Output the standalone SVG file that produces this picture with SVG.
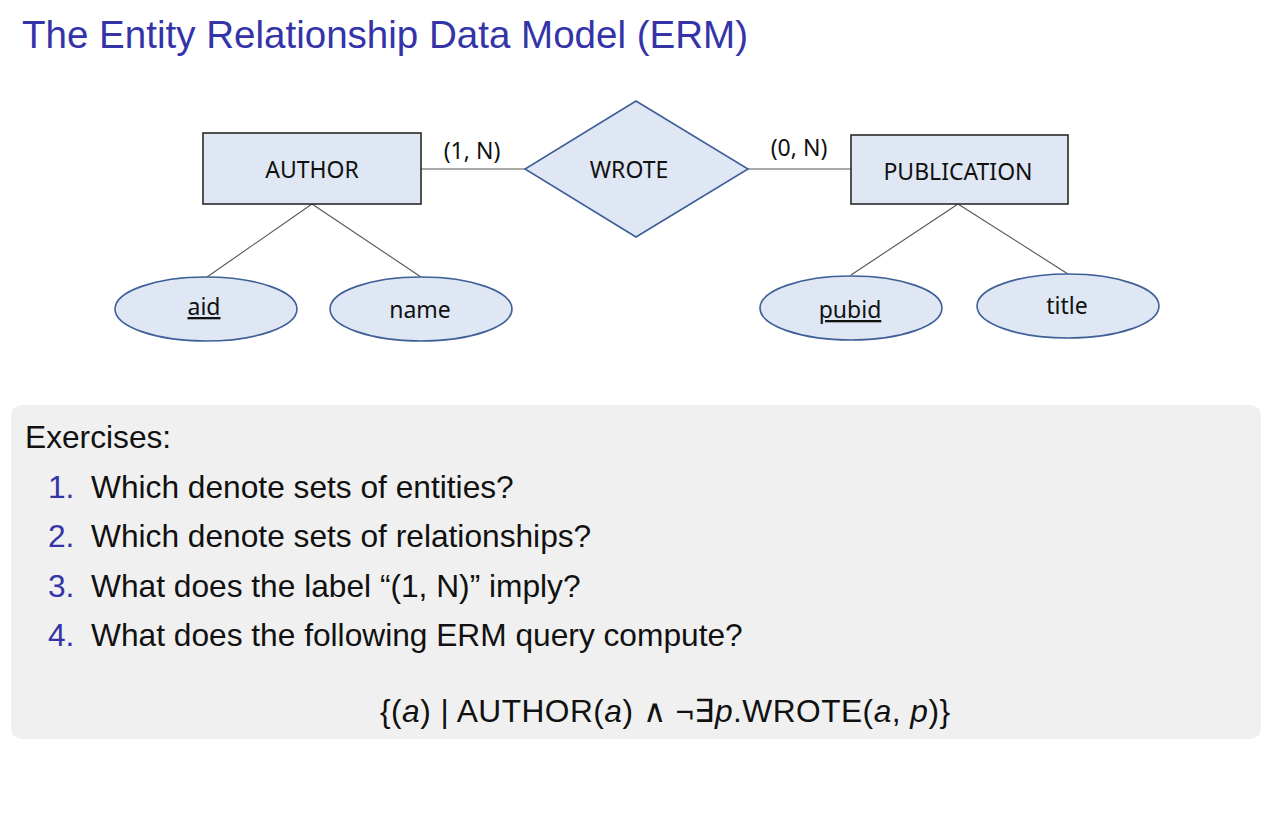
<svg xmlns="http://www.w3.org/2000/svg" width="1272" height="824" viewBox="0 0 1272 824">
<style>
.title{font-family:"Liberation Sans",Arial,sans-serif;font-size:39px;fill:#3434a8}
.lbl{font-family:"Noto Sans","Open Sans",sans-serif;font-size:23px;fill:#111;text-anchor:middle}
.ent{fill:#dee7f3;stroke:#2a2a2a;stroke-width:1.6}
.rel{fill:#dee7f3;stroke:#3f5f97;stroke-width:1.6}
.att{fill:#dee7f3;stroke:#3f5f97;stroke-width:1.6}
.conn{stroke:#555;stroke-width:1.1;fill:none}
.ex{font-family:"Liberation Sans",Arial,sans-serif;font-size:31.7px;fill:#111}
.num{fill:#3434a8}
</style>
<rect width="1272" height="824" fill="#ffffff"/>
<text class="title" x="22" y="48" textLength="726" lengthAdjust="spacingAndGlyphs">The Entity Relationship Data Model (ERM)</text>

<g id="connectors">
<line class="conn" x1="421" y1="169" x2="525" y2="169"/>
<line class="conn" x1="748" y1="169" x2="851" y2="169"/>
<line class="conn" x1="312" y1="204" x2="207" y2="277"/>
<line class="conn" x1="312" y1="204" x2="421" y2="277"/>
<line class="conn" x1="958" y1="204" x2="851" y2="275"/>
<line class="conn" x1="958" y1="204" x2="1068" y2="274"/>
<text class="lbl" x="472" y="159">(1, N)</text>
<text class="lbl" x="799" y="156">(0, N)</text>
</g>

<g id="author">
<rect class="ent" x="203" y="133" width="218" height="71"/>
<text class="lbl" x="312" y="178">AUTHOR</text>
</g>
<g id="wrote">
<polygon class="rel" points="636,101 748,169 636,237 525,169"/>
<text class="lbl" x="629" y="178">WROTE</text>
</g>
<g id="publication">
<rect class="ent" x="851" y="135" width="217" height="69"/>
<text class="lbl" x="958" y="180">PUBLICATION</text>
</g>
<g id="aid">
<ellipse class="att" cx="206" cy="309" rx="91" ry="32"/>
<text class="lbl" x="204" y="315" text-decoration="underline">aid</text>
</g>
<g id="name">
<ellipse class="att" cx="421" cy="309" rx="91" ry="32"/>
<text class="lbl" x="420" y="318">name</text>
</g>
<g id="pubid">
<ellipse class="att" cx="851" cy="308" rx="91" ry="32"/>
<text class="lbl" x="850" y="318" text-decoration="underline">pubid</text>
</g>
<g id="title">
<ellipse class="att" cx="1068" cy="306" rx="91" ry="32"/>
<text class="lbl" x="1067" y="314">title</text>
</g>

<g id="exercises">
<rect x="11" y="405" width="1250" height="334" rx="11" fill="#f0f0f0"/>
<text class="ex" x="25" y="448">Exercises:</text>
<text class="ex" x="48" y="498"><tspan class="num">1.</tspan></text>
<text class="ex" x="91" y="498">Which denote sets of entities?</text>
<text class="ex" x="48" y="547"><tspan class="num">2.</tspan></text>
<text class="ex" x="91" y="547">Which denote sets of relationships?</text>
<text class="ex" x="48" y="597"><tspan class="num">3.</tspan></text>
<text class="ex" x="91" y="597">What does the label “(1, N)” imply?</text>
<text class="ex" x="48" y="646"><tspan class="num">4.</tspan></text>
<text class="ex" x="91" y="646">What does the following ERM query compute?</text>
<text class="ex" x="380" y="722" textLength="570" lengthAdjust="spacing">{(<tspan font-style="italic">a</tspan>) | AUTHOR(<tspan font-style="italic">a</tspan>) ∧ ¬∃<tspan font-style="italic">p</tspan>.WROTE(<tspan font-style="italic">a</tspan>, <tspan font-style="italic">p</tspan>)}</text>
</g>
</svg>
